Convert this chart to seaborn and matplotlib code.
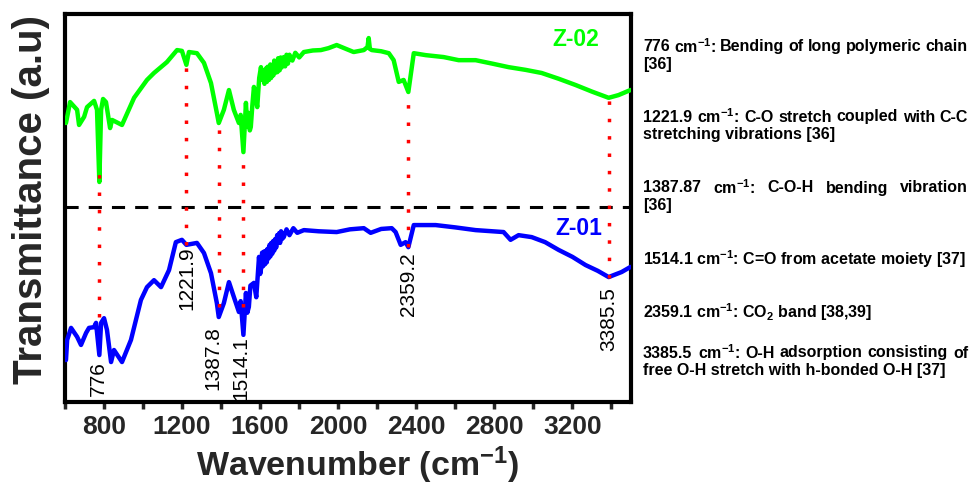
import numpy as np
import pandas as pd
import seaborn as sns
import matplotlib
matplotlib.use("Agg")
import matplotlib.pyplot as plt
from matplotlib import font_manager as fm
from matplotlib.ticker import MultipleLocator

# ---------------- data ----------------
wn_z02 = [605, 626, 662, 672, 698, 713, 749, 764, 776, 785, 795, 810, 831, 841, 892, 954,
          1020, 1056, 1122, 1174, 1199, 1221.9, 1235, 1276, 1312, 1348, 1378, 1387.8, 1414,
          1440, 1465, 1491, 1500, 1514.1, 1527, 1534, 1540, 1547, 1552, 1560, 1568, 1578, 1585,
          1595, 1604, 1610, 1615, 1622, 1630, 1634, 1638, 1645, 1652, 1656, 1660, 1668, 1672,
          1676, 1684, 1688, 1692, 1700, 1705, 1710, 1721, 1728, 1735, 1742, 1750, 1765, 1780,
          1800, 1824, 1870, 1911, 1950, 1992, 2040, 2079, 2131, 2150, 2156, 2162, 2172, 2220,
          2259, 2284, 2310, 2335, 2359.2, 2387, 2448, 2540, 2617, 2704, 2790, 2873, 2960,
          3042, 3130, 3216, 3300, 3385.5, 3436, 3497]
t_z02 = [71.9, 77.3, 75.3, 71.4, 73.5, 76.0, 77.6, 75.3, 56.7, 75.3, 78.1, 77.3, 70.6, 72.7,
         71.4, 78.4, 83.0, 84.8, 87.6, 90.7, 90.5, 86.9, 90.2, 89.9, 87.4, 82.2, 74.5, 71.9,
         75.3, 80.4, 75.3, 71.9, 74.0, 64.4, 77.1, 71.0, 74.5, 70.0, 70.9, 76.5, 81.2, 78.0, 76.0,
         83.5, 86.3, 83.0, 85.5, 82.0, 86.0, 82.5, 86.4, 83.0, 87.0, 83.5, 86.0, 84.2, 88.0,
         84.8, 87.5, 85.0, 88.6, 85.5, 88.8, 86.2, 88.9, 86.5, 89.5, 87.2, 89.5, 88.0, 90.0,
         88.8, 90.2, 90.6, 90.7, 91.2, 92.0, 91.0, 90.2, 90.7, 91.5, 93.8, 91.0, 90.7,
         90.4, 89.9, 88.1, 82.5, 83.0, 79.9, 89.9, 89.4, 88.9, 88.1, 88.1, 87.2, 86.3, 85.6,
         84.8, 83.3, 81.7, 80.0, 78.4, 79.1, 80.4]

wn_z01 = [605, 611, 631, 662, 682, 708, 723, 749, 759, 776, 785, 800, 815, 836, 851, 892,
          938, 989, 1020, 1056, 1092, 1133, 1168, 1199, 1221.9, 1276, 1312, 1348, 1378,
          1387.8, 1414, 1440, 1465, 1491, 1500, 1514.1, 1527, 1534, 1542, 1550, 1568, 1580,
          1594, 1600, 1605, 1610, 1615, 1620, 1625, 1630, 1634, 1638, 1643, 1648, 1652, 1657,
          1662, 1667, 1672, 1677, 1682, 1687, 1692, 1697, 1702, 1707, 1712, 1721, 1735, 1750,
          1770, 1790, 1824, 1900, 1992, 2060, 2131, 2166, 2220, 2274, 2294, 2320, 2345, 2359.2,
          2387, 2499, 2600, 2704, 2847, 2883, 2924, 2991, 3060, 3129, 3200, 3267, 3330, 3385.5,
          3452, 3497]
t_z01 = [10.8, 16.0, 19.1, 16.8, 14.7, 17.8, 19.1, 19.3, 20.4, 12.1, 20.4, 21.6, 18.6, 10.3,
         13.4, 10.3, 16.0, 26.3, 29.6, 31.4, 29.6, 34.0, 41.2, 41.8, 40.5, 41.0, 38.4, 33.2,
         25.5, 21.9, 25.5, 30.9, 27.1, 23.2, 26.0, 17.3, 28.1, 23.0, 24.5, 30.0, 30.7, 27.0,
         37.4, 33.0, 34.5, 38.5, 35.0, 38.8, 35.5, 39.0, 36.0, 39.5, 37.0, 40.5, 37.5, 41.0,
         38.2, 41.5, 39.0, 42.0, 39.8, 43.0, 41.0, 43.5, 41.0, 44.0, 42.0, 42.5, 44.5, 43.0,
         44.8, 43.6, 44.3, 44.0, 43.8, 44.5, 44.8, 43.6, 44.6, 44.8, 43.8, 40.5, 41.2, 39.9,
         45.6, 45.6, 45.0, 44.3, 43.8, 41.8, 43.0, 42.5, 41.2, 39.2, 37.4, 35.3, 33.8, 32.2,
         33.5, 34.8]

peaks = [776, 1221.9, 1387.8, 1514.1, 2359.2, 3385.5]
peak_labels = ["776", "1221.9", "1387.8", "1514.1", "2359.2", "3385.5"]
peak_top = [61.3, 87.6, 72.7, 64.2, 79.9, 78.4]
peak_bottom = [21.9, 40.5, 24.5, 24.5, 40.0, 32.0]
label_x = [770, 1221.9, 1360, 1500, 2359.2, 3385.5]
label_top = [10.6, 40.0, 19.5, 17.0, 38.6, 29.6]
divider_y = 50.3

notes = [
    ("776 cm$^{\\mathregular{-1}}$: Bending of long polymeric chain", 46.7, True),
    ("[36]", 64, False),
    ("1221.9 cm$^{\\mathregular{-1}}$: C-O stretch coupled with C-C", 117, True),
    ("stretching vibrations [36]", 135, False),
    ("1387.87 cm$^{\\mathregular{-1}}$: C-O-H bending vibration", 188, True),
    ("[36]", 205, False),
    ("1514.1 cm$^{\\mathregular{-1}}$: C=O from acetate moiety [37]", 259, False),
    ("2359.1 cm$^{\\mathregular{-1}}$: CO$_{\\mathregular{2}}$ band [38,39]", 312, False),
    ("3385.5 cm$^{\\mathregular{-1}}$: O-H adsorption consisting of", 353, True),
    ("free O-H stretch with h-bonded O-H [37]", 371, False),
]

# ---------------- style ----------------
sns.set_style("white")
plt.rcParams["font.family"] = ["Liberation Sans", "DejaVu Sans"]
plt.rcParams["mathtext.default"] = "regular"


def has_font(name):
    try:
        fm.findfont(fm.FontProperties(family=name), fallback_to_default=False)
        return True
    except Exception:
        return False


narrow_ok = has_font("Liberation Sans Narrow")
narrow = "Liberation Sans Narrow" if narrow_ok else "Liberation Sans"
xlab_size = 29 if narrow_ok else 24.5
tick_size = 20 if narrow_ok else 19

W, H = 971, 491
fig = plt.figure(figsize=(W / 100, H / 100), dpi=100)
ax = fig.add_axes([65 / W, 1 - 402 / H, (631 - 65) / W, (402 - 14) / H])

df02 = pd.DataFrame({"wn": wn_z02, "t": t_z02})
df01 = pd.DataFrame({"wn": wn_z01, "t": t_z01})
sns.lineplot(data=df02, x="wn", y="t", ax=ax, color="#00FF00", lw=3.2, sort=False,
             estimator=None, zorder=3)
sns.lineplot(data=df01, x="wn", y="t", ax=ax, color="#0000FF", lw=3.2, sort=False,
             estimator=None, zorder=3)

ax.axhline(divider_y, color="black", lw=2.2, ls=(0, (4.3, 3.3)), zorder=4)

for p, lab, top, bot, lx, ly in zip(peaks, peak_labels, peak_top, peak_bottom, label_x,
                                    label_top):
    ax.vlines(p, bot, top, colors="red", lw=2.5, linestyles=[(0, (1, 4))], zorder=5)
    ax.text(lx, ly, lab, rotation=90, ha="center", va="top", fontsize=15,
            family="Liberation Sans", color="black", zorder=6)

ax.text(3216, 93.3, "Z-02", color="#00FF00", fontsize=16.5, fontweight="bold",
        ha="center", va="center")
ax.text(3231, 44.8, "Z-01", color="#0000FF", fontsize=16.5, fontweight="bold",
        ha="center", va="center")

ax.set_xlim(600, 3500)
ax.set_ylim(0, 100)
ax.set_xlabel("")
ax.set_ylabel("")
ax.set_yticks([])
ax.xaxis.set_major_locator(MultipleLocator(400))
ax.xaxis.set_minor_locator(MultipleLocator(200))
ax.set_xticks([800, 1200, 1600, 2000, 2400, 2800, 3200])
ax.tick_params(axis="x", which="both", direction="out", length=5, width=2.5,
               bottom=True, labelsize=tick_size, pad=4)
for lbl in ax.get_xticklabels():
    lbl.set_family(narrow)
    lbl.set_fontweight("bold")
for s in ax.spines.values():
    s.set_linewidth(3)
    s.set_color("black")

fig.text(358 / W, 1 - 465 / H, "Wavenumber (cm$^{\\mathregular{-1}}$)", ha="center",
         va="center", fontsize=xlab_size, fontweight="bold", family=narrow)
fig.text(31 / W, 1 - 199 / H, "Transmittance (a.u)", rotation=90, ha="center",
         va="center", fontsize=29, fontweight="bold")

# right-side notes
renderer = fig.canvas.get_renderer()
x0, x1 = 643, 968
for txt, ypx, just in notes:
    kw = dict(fontsize=11.5, fontweight="bold", va="center", ha="left",
              family=["Liberation Sans", "DejaVu Sans"], color="black")
    if not just:
        fig.text(x0 / W, 1 - ypx / H, txt, **kw)
        continue
    words = txt.split(" ")
    objs = [fig.text(0, 1 - ypx / H, w_, **kw) for w_ in words]
    widths = [o.get_window_extent(renderer).width for o in objs]
    gap = (x1 - x0 - sum(widths)) / (len(words) - 1)
    xx = x0
    for o, wd in zip(objs, widths):
        o.set_x(xx / W)
        xx += wd + gap

fig.savefig("out.png", dpi=100)
